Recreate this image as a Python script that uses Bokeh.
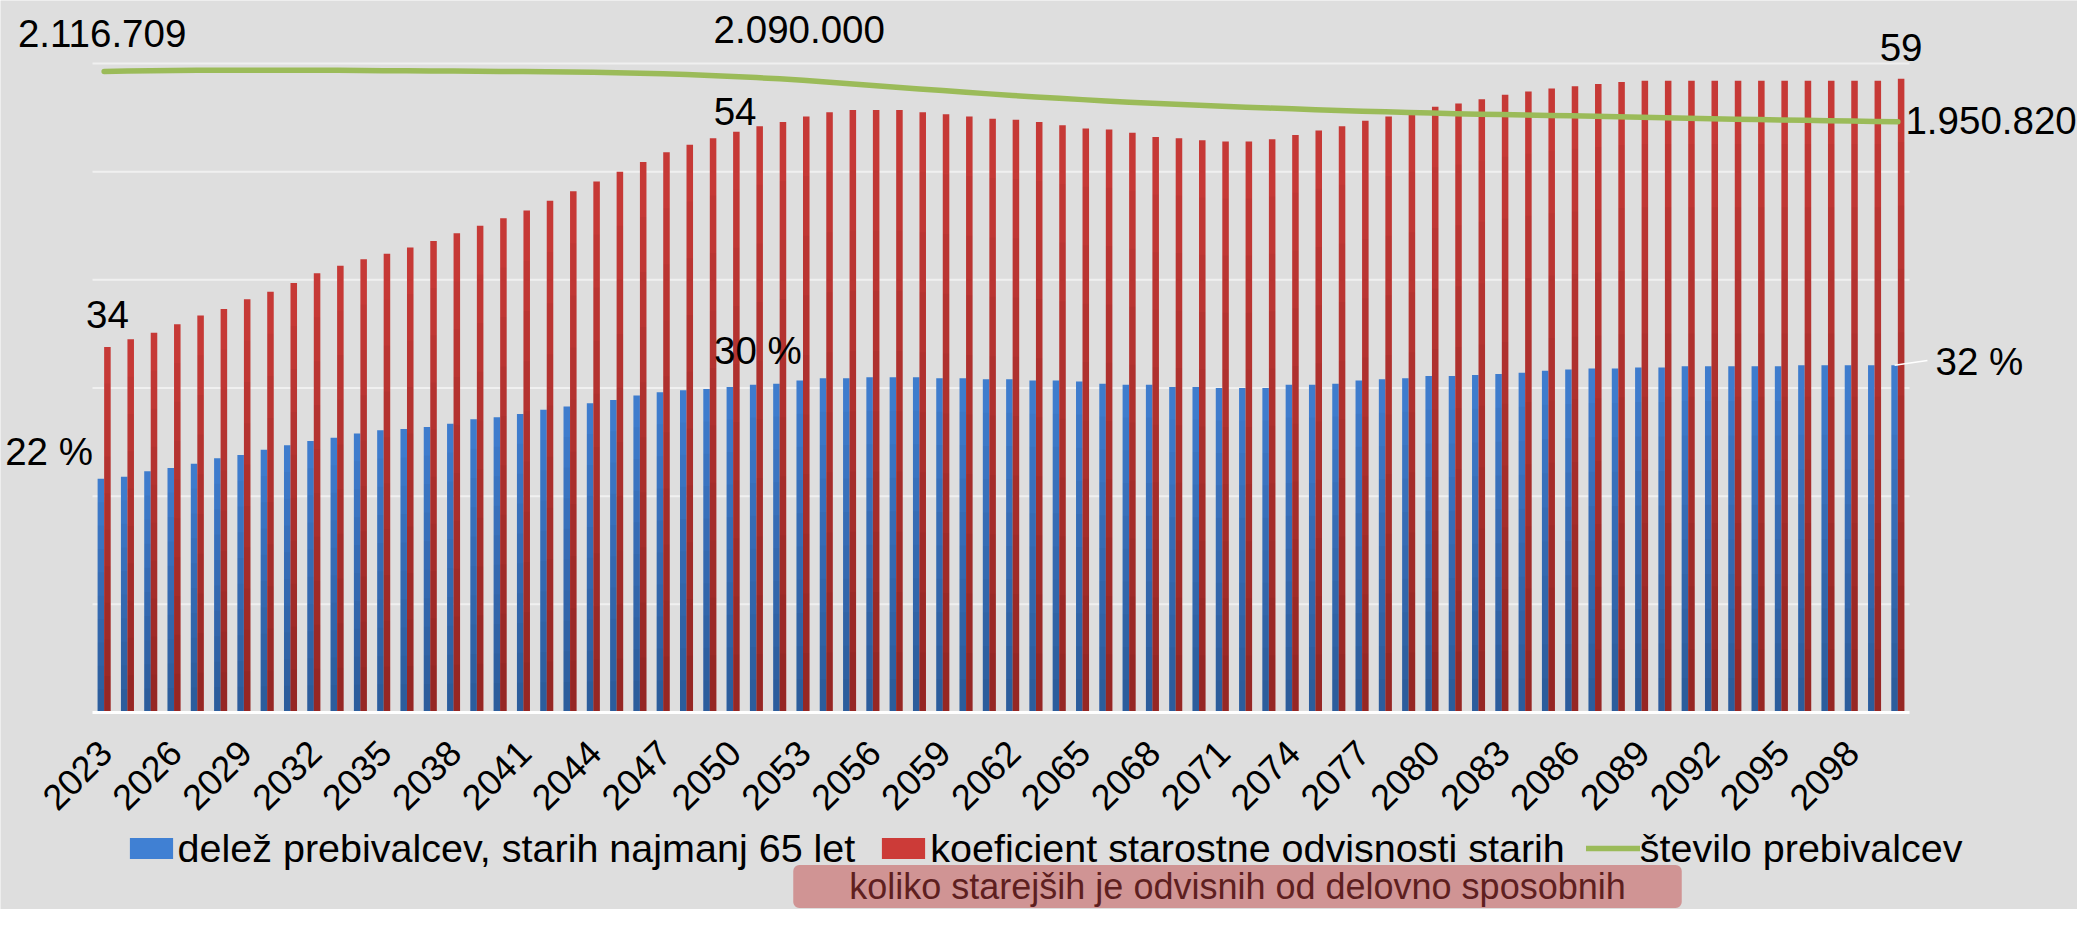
import math
from bokeh.plotting import figure
from bokeh.models import (Range1d, Legend, LegendItem, Label, Arrow, ColumnDataSource)
from bokeh.transform import dodge
from bokeh.core.properties import value
from bokeh.embed import file_html
from bokeh.resources import INLINE

# ---------------- data ----------------
years = list(range(2023, 2101))

# delež prebivalcev, starih najmanj 65 let (%)
share_65 = [
    21.6, 21.8, 22.3, 22.6, 23.0, 23.5, 23.8, 24.3, 24.7, 25.1,   # 2023-2032
    25.4, 25.8, 26.1, 26.2, 26.4, 26.7, 27.1, 27.3, 27.6, 28.0,   # 2033-2042
    28.3, 28.6, 28.9, 29.3, 29.6, 29.8, 29.9, 30.1, 30.3, 30.4,   # 2043-2052
    30.7, 30.9, 30.9, 31.0, 31.0, 31.0, 30.9, 30.9, 30.8, 30.8,   # 2053-2062
    30.7, 30.7, 30.6, 30.4, 30.3, 30.3, 30.1, 30.1, 30.0, 30.0,   # 2063-2072
    30.0, 30.3, 30.3, 30.4, 30.7, 30.8, 30.9, 31.1, 31.1, 31.2,   # 2073-2082
    31.3, 31.4, 31.6, 31.7, 31.8, 31.8, 31.9, 31.9, 32.0, 32.0,   # 2083-2092
    32.0, 32.0, 32.0, 32.1, 32.1, 32.1, 32.1, 32.1,               # 2093-2100
]

# koeficient starostne odvisnosti starih
dependency = [
    33.8, 34.5, 35.1, 35.9, 36.7, 37.3, 38.2, 38.9, 39.7, 40.6,   # 2023-2032
    41.3, 41.9, 42.4, 43.0, 43.6, 44.3, 45.0, 45.7, 46.4, 47.3,   # 2033-2042
    48.2, 49.1, 50.0, 50.9, 51.8, 52.5, 53.1, 53.7, 54.2, 54.6,   # 2043-2052
    55.1, 55.5, 55.7, 55.7, 55.7, 55.5, 55.3, 55.1, 54.9, 54.8,   # 2053-2062
    54.6, 54.3, 54.0, 53.9, 53.6, 53.2, 53.1, 52.9, 52.8, 52.8,   # 2063-2072
    53.0, 53.4, 53.8, 54.2, 54.7, 55.1, 55.5, 56.0, 56.3, 56.7,   # 2073-2082
    57.1, 57.4, 57.7, 57.9, 58.1, 58.3, 58.4, 58.4, 58.4, 58.4,   # 2083-2092
    58.4, 58.4, 58.4, 58.4, 58.4, 58.4, 58.4, 58.6,               # 2093-2100
]

# število prebivalcev
population = [
    2116709, 2118000, 2119000, 2120000, 2120500, 2121000, 2121000, 2121000, 2121000, 2121000,  # 2023-2032
    2120500, 2120000, 2119500, 2119000, 2118500, 2118000, 2117500, 2117000, 2116500, 2115700,  # 2033-2042
    2115000, 2114000, 2112500, 2111000, 2109100, 2106500, 2103500, 2100000, 2096500, 2092600,  # 2043-2052
    2087500, 2082000, 2076500, 2070800, 2064900, 2059200, 2053600, 2048200, 2042800, 2037500,  # 2053-2062
    2032800, 2028200, 2023800, 2019500, 2015400, 2011800, 2008300, 2005000, 2001800, 1998800,  # 2063-2072
    1996000, 1993300, 1990700, 1988100, 1985600, 1983400, 1981300, 1979400, 1977500, 1975700,  # 2073-2082
    1974300, 1973000, 1971700, 1970400, 1969100, 1967400, 1965600, 1963900, 1962200, 1960500,  # 2083-2092
    1959200, 1957900, 1956700, 1955500, 1954300, 1953100, 1951900, 1950820,                    # 2093-2100
]

tick_years = [2023, 2026, 2029, 2032, 2035, 2038, 2041, 2044, 2047, 2050, 2053, 2056, 2059,
              2062, 2065, 2068, 2071, 2074, 2077, 2080, 2083, 2086, 2089, 2092, 2095, 2098]
tick_labels = [str(y) for y in tick_years]
grid_values = [10, 20, 30, 40, 50, 60]

series_names = ["delež prebivalcev, starih najmanj 65 let",
                "koeficient starostne odvisnosti starih",
                "število prebivalcev"]
note_text = "koliko starejših je odvisnih od delovno sposobnih"
mid_pop_label = "2.090.000"

# ---------------- styles / layout ----------------
BG = "#DEDEDE"
BLUE = "#4080D3"
RED = "#CC3B38"
GREEN = "#9BBB59"
GRID = "#F0F0F0"
FONT = "Liberation Sans"
SHADE_STEPS = 10          # vertical gradient of the bars (darker towards the base)
SHADE_ALPHA = 0.027

W, H = 2077, 909
PLOT_L, PLOT_R, PLOT_T, PLOT_B = 92, 1909, 63, 712   # plot area in canvas px
Y_MAX = 60
POP_MAX = 2143100

x0_cat = years[0] - 0.5
x1_cat = years[-1] + 0.5
pxx = (PLOT_R - PLOT_L) / (x1_cat - x0_cat)
pxy = (PLOT_B - PLOT_T) / Y_MAX
pxp = (PLOT_B - PLOT_T) / POP_MAX

x_range = Range1d(x0_cat - PLOT_L / pxx, x0_cat + (W - PLOT_L) / pxx)
y_range = Range1d(-(H - PLOT_B) / pxy, PLOT_B / pxy)
pop_range = Range1d(-(H - PLOT_B) / pxp, PLOT_B / pxp)


def fmt_pop(v):
    return f"{v:,}".replace(",", ".")


p = figure(width=W, height=H, output_backend="svg", toolbar_location=None,
           x_range=x_range, y_range=y_range,
           x_axis_location=None, y_axis_location=None,
           min_border=0, min_border_left=0, min_border_right=0,
           min_border_top=0, min_border_bottom=0,
           background_fill_color=BG, border_fill_color=BG, outline_line_color=None)
p.title.visible = False
p.extra_y_ranges = {"pop": pop_range}
p.grid.visible = False

# horizontal grid lines over the plot area
p.segment(x0=[x0_cat] * len(grid_values), x1=[x1_cat] * len(grid_values),
          y0=grid_values, y1=grid_values, line_color=GRID, line_width=2)

src = ColumnDataSource(dict(year=years, share=share_65, dep=dependency, pop=population))

r_blue = p.vbar(x=dodge("year", -0.14), top="share", width=0.28, source=src,
                fill_color=BLUE, line_color=None)
r_red = p.vbar(x=dodge("year", 0.14), top="dep", width=0.28, source=src,
               fill_color=RED, line_color=None)

# gradient shading of each bar (same bars, darker towards the base)
for k in range(1, SHADE_STEPS + 1):
    f = k / SHADE_STEPS
    shade = ColumnDataSource(dict(year=years,
                                  share=[v * f for v in share_65],
                                  dep=[v * f for v in dependency]))
    p.vbar(x=dodge("year", -0.14), top="share", width=0.28, source=shade,
           fill_color="black", fill_alpha=SHADE_ALPHA, line_color=None)
    p.vbar(x=dodge("year", 0.14), top="dep", width=0.28, source=shade,
           fill_color="black", fill_alpha=SHADE_ALPHA, line_color=None)

# category axis line
p.segment(x0=[x0_cat], x1=[x1_cat], y0=[0], y1=[0], line_color="white", line_width=3)

r_green = p.line(x="year", y="pop", source=src, y_range_name="pop",
                 line_color=GREEN, line_width=5.5, line_cap="round", line_join="round")

# tick labels of the category axis
tick_src = ColumnDataSource(dict(x=tick_years, y=[0] * len(tick_years), t=tick_labels))
p.text(x="x", y="y", text="t", source=tick_src, angle=math.pi / 4,
       text_align="right", text_baseline="middle", x_offset=1, y_offset=34,
       text_font=value(FONT), text_font_size="36px", text_color="black")

legend = Legend(items=[LegendItem(label=series_names[0], renderers=[r_blue]),
                       LegendItem(label=series_names[1], renderers=[r_red]),
                       LegendItem(label=series_names[2], renderers=[r_green])],
                orientation="horizontal", location=(123.6, 38.5),
                label_text_font=FONT, label_text_font_size="39.5px", label_text_color="black",
                glyph_width=54, glyph_height=26, label_standoff=0, spacing=21,
                padding=0, margin=0, background_fill_alpha=0, border_line_color=None)
p.add_layout(legend)


def add_label(text, x, y, align, dx, dy, yr="default"):
    p.add_layout(Label(x=x, y=y, y_range_name=yr, text=text, text_align=align,
                       text_baseline="middle", x_offset=dx, y_offset=dy,
                       text_font=FONT, text_font_size="38.5px", text_color="black"))


i50 = years.index(2050)
add_label(fmt_pop(population[0]), years[0], population[0], "center", -2, 38, "pop")
add_label(mid_pop_label, years[i50], population[i50], "left", -19.5, 47, "pop")
add_label(fmt_pop(population[-1]), years[-1], population[-1], "left", 7.6, 1, "pop")
add_label(f"{round(dependency[0])}", years[0] + 0.14, dependency[0], "center", 0, 32)
add_label(f"{round(dependency[i50])}", years[i50] + 0.14, dependency[i50], "left", -22.7, 20)
add_label(f"{round(dependency[-1])}", years[-1] + 0.14, dependency[-1], "center", 0, 31)
add_label(f"{round(share_65[0])} %", years[0] - 0.14, share_65[0], "right", -8, 27.4)
add_label(f"{round(share_65[i50])} %", years[i50] - 0.14, share_65[i50], "left", -15.8, 36)
add_label(f"{round(share_65[-1])} %", years[-1] - 0.14, share_65[-1], "left", 41, 4)

p.add_layout(Arrow(end=None, x_start=years[-1] - 0.14, y_start=share_65[-1],
                   x_end=years[-1] + 1.27, y_end=share_65[-1] + 0.45,
                   line_color="white", line_width=1.5))

p.add_layout(Label(x=1237, y=23, x_units="screen", y_units="screen", text=note_text,
                   text_align="center", text_baseline="alphabetic",
                   text_font=FONT, text_font_size="36px", text_color="#5E1F1F",
                   background_fill_color="#D09494", border_radius=6,
                   padding=dict(left=56, right=56, top=1, bottom=1)))

open("out.html", "w").write(file_html(p, INLINE))
